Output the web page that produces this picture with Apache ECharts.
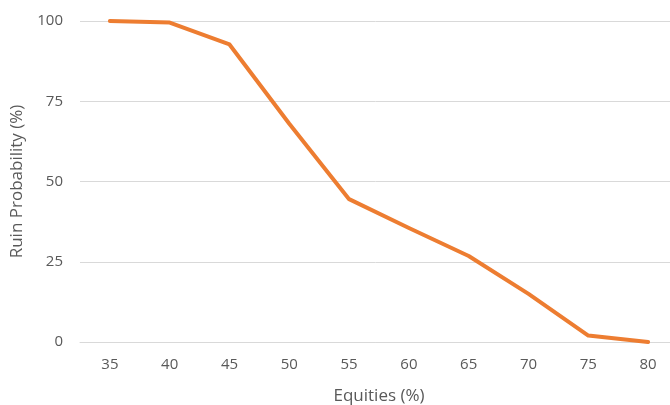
<!DOCTYPE html>
<html><head><meta charset="utf-8">
<script src="https://cdn.jsdelivr.net/npm/echarts@6/dist/echarts.min.js"></script>
<style>html,body{margin:0;padding:0;background:#fff}#c{width:670px;height:405px}</style>
</head><body><div id="c"></div>
<script>
const categories = ['35','40','45','50','55','60','65','70','75','80'];
const ruinProbability = [100, 99.5, 92.7, 68, 44.5, 35.5, 26.8, 15, 2, 0];
const yTicks = [0, 25, 50, 75, 100];

const chart = echarts.init(document.getElementById('c'));
const font = 'Open Sans';
chart.setOption({
  animation: false,
  grid: { left: 80, right: -8, top: 21, bottom: 63, containLabel: false, outerBoundsMode: 'none' },
  xAxis: {
    type: 'category', data: categories, boundaryGap: true,
    name: 'Equities (%)', nameLocation: 'middle', nameGap: 46,
    nameTextStyle: { color: '#595959', fontSize: 17, fontFamily: font },
    axisLine: { show: true, lineStyle: { color: '#d9d9d9' } },
    axisTick: { show: false },
    axisLabel: { color: '#595959', fontSize: 15, fontFamily: font, margin: 15 }
  },
  yAxis: {
    type: 'value', min: yTicks[0], max: yTicks[yTicks.length-1], interval: 25,
    name: 'Ruin Probability (%)', nameLocation: 'middle', nameGap: 54, nameRotate: 90,
    nameTextStyle: { color: '#595959', fontSize: 17, fontFamily: font },
    axisLine: { show: false }, axisTick: { show: false },
    axisLabel: { color: '#595959', fontSize: 15, fontFamily: font, margin: 17 },
    splitLine: { lineStyle: { color: '#d9d9d9', width: 1 } }
  },
  series: [{
    type: 'line', data: ruinProbability, symbol: 'none',
    lineStyle: { color: '#ED7D31', width: 4, cap: 'round', join: 'round' }
  }]
});
</script></body></html>
